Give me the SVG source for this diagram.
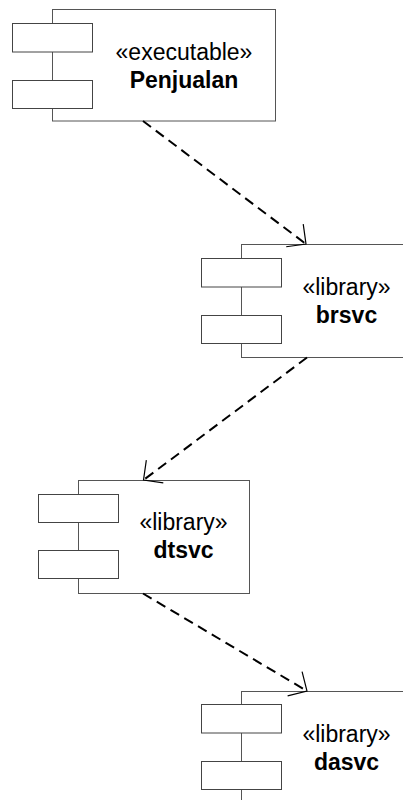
<svg xmlns="http://www.w3.org/2000/svg" width="403" height="800" viewBox="0 0 403 800">
  <style>
    .box { fill: #ffffff; stroke: #555555; stroke-width: 1; }
    .port { fill: #ffffff; stroke: #444444; stroke-width: 1; }
    .stereo { font-family: "Liberation Sans", Arial, sans-serif; font-size: 23px; fill: #000000; text-anchor: middle; }
    .name { font-family: "Liberation Sans", Arial, sans-serif; font-size: 23px; font-weight: bold; fill: #000000; text-anchor: middle; }
    .dep { fill: none; stroke: #000000; stroke-width: 2; stroke-dasharray: 10 6; }
  </style>
  <defs>
    <marker id="open" markerUnits="userSpaceOnUse" markerWidth="40" markerHeight="40" viewBox="-20 -20 40 40" refX="0" refY="0" orient="auto" overflow="visible">
      <path d="M -14.14 -14.14 L 0 0 L -14.14 14.14" fill="none" stroke="#000000" stroke-width="1.2"/>
    </marker>
  </defs>
  <rect x="0" y="0" width="403" height="800" fill="#ffffff"/>

  <g id="node-penjualan">
    <rect class="box" x="52.5" y="9.5" width="223" height="111.5"/>
    <rect class="port" x="12.5" y="23.5" width="80" height="28.5"/>
    <rect class="port" x="12.5" y="80.5" width="80" height="28"/>
    <text class="stereo" x="184" y="60">«executable»</text>
    <text class="name" x="184" y="88">Penjualan</text>
  </g>

  <g id="node-brsvc">
    <rect class="box" x="241.5" y="244.5" width="171" height="113"/>
    <rect class="port" x="201.5" y="258.5" width="80" height="28.5"/>
    <rect class="port" x="201.5" y="315.5" width="80" height="28"/>
    <text class="stereo" x="346.5" y="295">«library»</text>
    <text class="name" x="346.5" y="323">brsvc</text>
  </g>

  <g id="node-dtsvc">
    <rect class="box" x="78.5" y="480.5" width="171" height="113"/>
    <rect class="port" x="38.5" y="494.5" width="80" height="28"/>
    <rect class="port" x="38.5" y="550.5" width="80" height="28"/>
    <text class="stereo" x="183.5" y="530">«library»</text>
    <text class="name" x="183.5" y="558">dtsvc</text>
  </g>

  <g id="node-dasvc">
    <rect class="box" x="241.5" y="691.5" width="171" height="113"/>
    <rect class="port" x="201.5" y="704.5" width="80" height="28.5"/>
    <rect class="port" x="201.5" y="761.5" width="80" height="28"/>
    <text class="stereo" x="346.5" y="741.5">«library»</text>
    <text class="name" x="346.5" y="769.5">dasvc</text>
  </g>

  <g id="connectors">
    <line class="dep" x1="143" y1="121" x2="306" y2="244" marker-end="url(#open)"/>
    <line class="dep" x1="307" y1="357.5" x2="143.5" y2="480" marker-end="url(#open)"/>
    <line class="dep" x1="143" y1="593.5" x2="307" y2="691" marker-end="url(#open)"/>
  </g>
</svg>
